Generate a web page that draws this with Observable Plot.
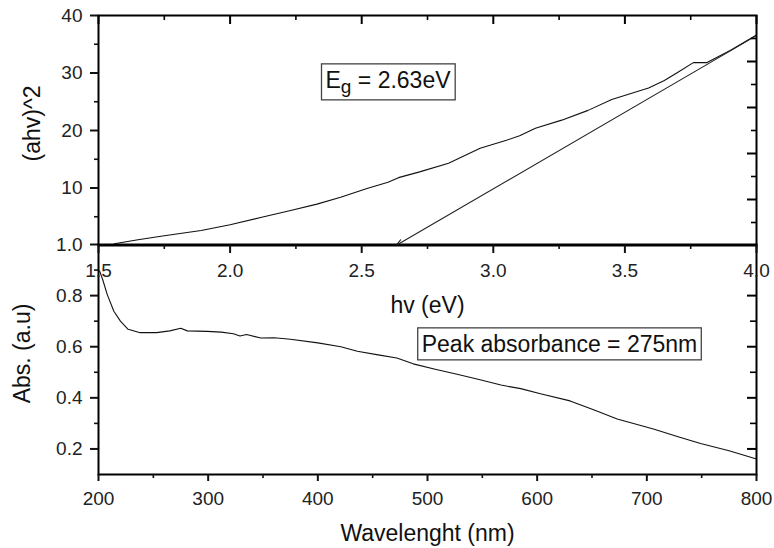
<!DOCTYPE html>
<html><head><meta charset="utf-8">
<script src="https://cdn.jsdelivr.net/npm/d3@7"></script>
<script src="https://cdn.jsdelivr.net/npm/@observablehq/plot@0.6"></script>
<style>
html,body{margin:0;padding:0;background:#fff;}
#chart{position:relative;width:774px;height:548px;overflow:hidden;background:#fff;}
#chart svg{position:absolute;left:0;top:0;}
</style></head><body><div id="chart"></div>
<script>
// ---- Top panel: Tauc plot ----
const hv   = [1.56, 1.65, 1.75, 1.89, 2.00, 2.12, 2.23, 2.33, 2.42, 2.52, 2.60, 2.64, 2.72, 2.83, 2.95, 3.05, 3.10, 3.16, 3.26, 3.36, 3.45, 3.59, 3.65, 3.70, 3.76, 3.81, 3.90, 4.00];
const ahv2 = [0.3, 1.0, 1.7, 2.6, 3.6, 4.9, 6.1, 7.2, 8.4, 9.9, 11.0, 11.8, 12.8, 14.3, 16.9, 18.3, 19.1, 20.4, 21.8, 23.5, 25.4, 27.4, 28.7, 30.1, 31.8, 31.8, 33.9, 36.6];
const tangentHv  = [4.0, 2.63];
const tangentAhv = [36.5, 0];
const hvTicks  = [1.5, 2.0, 2.5, 3.0, 3.5, 4.0];
const hvMinor  = [1.75, 2.25, 2.75, 3.25, 3.75];
const ahvTicks = [10, 20, 30, 40];
const ahvMinor = [5, 15, 25, 35];
const ahvRightMajor = [8, 16, 24, 32];
const ahvRightMinor = [4, 12, 20, 28, 36];
const egText = "Eg = 2.63eV";

// ---- Bottom panel: absorbance ----
const wavelength = [201, 204, 208, 214, 220, 227, 238, 253, 265, 275, 281, 299, 312, 323, 329, 335, 348, 360, 375, 400, 421, 436, 455, 472, 487, 507, 527, 547, 567, 585, 603, 630, 652, 673, 706, 730, 749, 775, 800];
const absorbance = [0.897, 0.86, 0.804, 0.739, 0.70, 0.668, 0.655, 0.655, 0.662, 0.672, 0.662, 0.660, 0.657, 0.651, 0.642, 0.648, 0.634, 0.635, 0.629, 0.615, 0.600, 0.582, 0.568, 0.556, 0.533, 0.512, 0.492, 0.472, 0.450, 0.436, 0.416, 0.388, 0.352, 0.317, 0.278, 0.246, 0.221, 0.193, 0.161];
const wlTicks  = [200, 300, 400, 500, 600, 700, 800];
const wlMinor  = [250, 350, 450, 550, 650, 750];
const absTicks = [0.2, 0.4, 0.6, 0.8, 1.0];
const absMinor = [0.3, 0.5, 0.7, 0.9];
const absRightMajor = [0.2, 0.4, 0.6, 0.8];
const absRightMinor = [0.3, 0.5, 0.7];
const peakText = "Peak absorbance = 275nm";

const FONT = '"Liberation Sans", Arial, Helvetica, sans-serif';
const W = 774, H = 548, ML = 98, MR = 18;
const FW = W - ML - MR;          // frame width
const FH = 230;                   // frame height (both panels)
const baseStyle = {fontFamily: FONT, fontSize: "19px", color: "#111", background: "transparent", overflow: "visible"};

const tauc = hv.map((h, i) => ({hv: h, v: ahv2[i]}));
const tangent = [{x1: tangentHv[0], y1: tangentAhv[0], x2: tangentHv[1], y2: tangentAhv[1]}];
const absData = wavelength.map((w, i) => ({w, a: absorbance[i]}));

const topPlot = Plot.plot({
  width: W, height: H,
  marginTop: 15, marginBottom: H - 15 - FH, marginLeft: ML, marginRight: MR,
  style: baseStyle,
  x: {domain: [1.5, 4.0]},
  y: {domain: [0, 40]},
  marks: [
    Plot.line(tauc, {x: "hv", y: "v", stroke: "#111", strokeWidth: 1.1}),
    Plot.arrow(tangent, {x1: "x1", y1: "y1", x2: "x2", y2: "y2", stroke: "#222", strokeWidth: 1.1, headLength: 10, headAngle: 40}),
    Plot.frame({stroke: "#000", strokeWidth: 2}),
    Plot.axisY({ticks: ahvTicks, anchor: "left", tickSize: 8, tickPadding: 8, strokeWidth: 2, label: null, fill: "#222"}),
    Plot.axisY({ticks: ahvMinor, anchor: "left", tickSize: 4, strokeWidth: 1.6, fill: "none", label: null}),
    Plot.tickY(ahvRightMajor, {y: d => d, insetLeft: FW - 9, stroke: "#000", strokeWidth: 2}),
    Plot.tickY(ahvRightMinor, {y: d => d, insetLeft: FW - 5, stroke: "#000", strokeWidth: 1.6}),
    Plot.tickX(hvTicks, {x: d => d, insetBottom: FH - 9, stroke: "#000", strokeWidth: 2}),
    Plot.tickX(hvMinor, {x: d => d, insetBottom: FH - 5, stroke: "#000", strokeWidth: 1.6}),
    Plot.axisX({ticks: hvTicks, anchor: "bottom", tickSize: 8, tickPadding: 10, strokeWidth: 2, tickFormat: ".1f", label: null, fill: "#222"}),
    Plot.axisX({ticks: hvMinor, anchor: "bottom", tickSize: 4, strokeWidth: 1.6, fill: "none", label: null}),
    Plot.text(["hv (eV)"], {text: d => d, frameAnchor: "bottom", dy: 60, fontSize: 23, textAnchor: "middle", lineAnchor: "middle", fill: "#111"}),
    Plot.text(["(ahv)^2"], {text: d => d, frameAnchor: "left", dx: -66, dy: -7, rotate: -90, fontSize: 23, textAnchor: "middle", lineAnchor: "middle", fill: "#111"}),
    Plot.text([egText], {text: d => d, frameAnchor: "top-left", dx: 227, dy: 65, fontSize: 23, textAnchor: "start", lineAnchor: "middle", fill: "#111"})
  ]
});

const bottomPlot = Plot.plot({
  width: W, height: H,
  marginTop: 244, marginBottom: H - 244 - FH, marginLeft: ML, marginRight: MR,
  style: baseStyle,
  x: {domain: [200, 800]},
  y: {domain: [0.1, 1.0]},
  marks: [
    Plot.line(absData, {x: "w", y: "a", stroke: "#111", strokeWidth: 1.1}),
    Plot.frame({stroke: "#000", strokeWidth: 2}),
    Plot.axisY({ticks: absTicks, anchor: "left", tickSize: 8, tickPadding: 8, strokeWidth: 2, tickFormat: ".1f", label: null, fill: "#222"}),
    Plot.axisY({ticks: absMinor, anchor: "left", tickSize: 4, strokeWidth: 1.6, fill: "none", label: null}),
    Plot.tickY(absRightMajor, {y: d => d, insetLeft: FW - 9, stroke: "#000", strokeWidth: 2}),
    Plot.tickY(absRightMinor, {y: d => d, insetLeft: FW - 6, stroke: "#000", strokeWidth: 1.6}),
    Plot.axisX({ticks: wlTicks, anchor: "bottom", tickSize: 7, tickPadding: 10, strokeWidth: 2, label: null, fill: "#222"}),
    Plot.axisX({ticks: wlMinor, anchor: "bottom", tickSize: 4, strokeWidth: 1.6, fill: "none", label: null}),
    Plot.text(["Wavelenght (nm)"], {text: d => d, frameAnchor: "bottom", dy: 59, fontSize: 23, textAnchor: "middle", lineAnchor: "middle", fill: "#111"}),
    Plot.text(["Abs. (a.u)"], {text: d => d, frameAnchor: "left", dx: -76, dy: -6, rotate: -90, fontSize: 23, textAnchor: "middle", lineAnchor: "middle", fill: "#111"}),
    Plot.text([peakText], {text: d => d, frameAnchor: "top-left", dx: 461, dy: 100, fontSize: 23, textAnchor: "middle", lineAnchor: "middle", fill: "#111"})
  ]
});

const chart = document.getElementById("chart");
chart.appendChild(bottomPlot);
chart.appendChild(topPlot);

const NS = "http://www.w3.org/2000/svg";
const findText = (svg, s) => [...svg.querySelectorAll("text")].find(t => t.textContent === s);

function boxAround(t, padX, padY) {
  const bb = t.getBBox();
  const r = document.createElementNS(NS, "rect");
  r.setAttribute("x", bb.x - padX);
  r.setAttribute("y", bb.y - padY);
  r.setAttribute("width", bb.width + 2 * padX);
  r.setAttribute("height", bb.height + 2 * padY);
  r.setAttribute("fill", "#fff");
  r.setAttribute("stroke", "#444");
  r.setAttribute("stroke-width", "1.3");
  const tr = t.getAttribute("transform");
  if (tr) r.setAttribute("transform", tr);
  t.parentNode.insertBefore(r, t);
}

// subscript g in E_g
{
  const t = findText(topPlot, egText);
  if (t) {
    t.textContent = "";
    const a = document.createElementNS(NS, "tspan"); a.textContent = egText.slice(0, 1);
    const b = document.createElementNS(NS, "tspan"); b.textContent = egText.slice(1, 2);
    b.setAttribute("font-size", "19"); b.setAttribute("dy", "5");
    const c = document.createElementNS(NS, "tspan"); c.textContent = egText.slice(2);
    c.setAttribute("dy", "-5");
    t.append(a, b, c);
    boxAround(t, 4, 3);
  }
}
{
  const t = findText(bottomPlot, peakText);
  if (t) boxAround(t, 4, 3);
}
</script>
</body></html>
